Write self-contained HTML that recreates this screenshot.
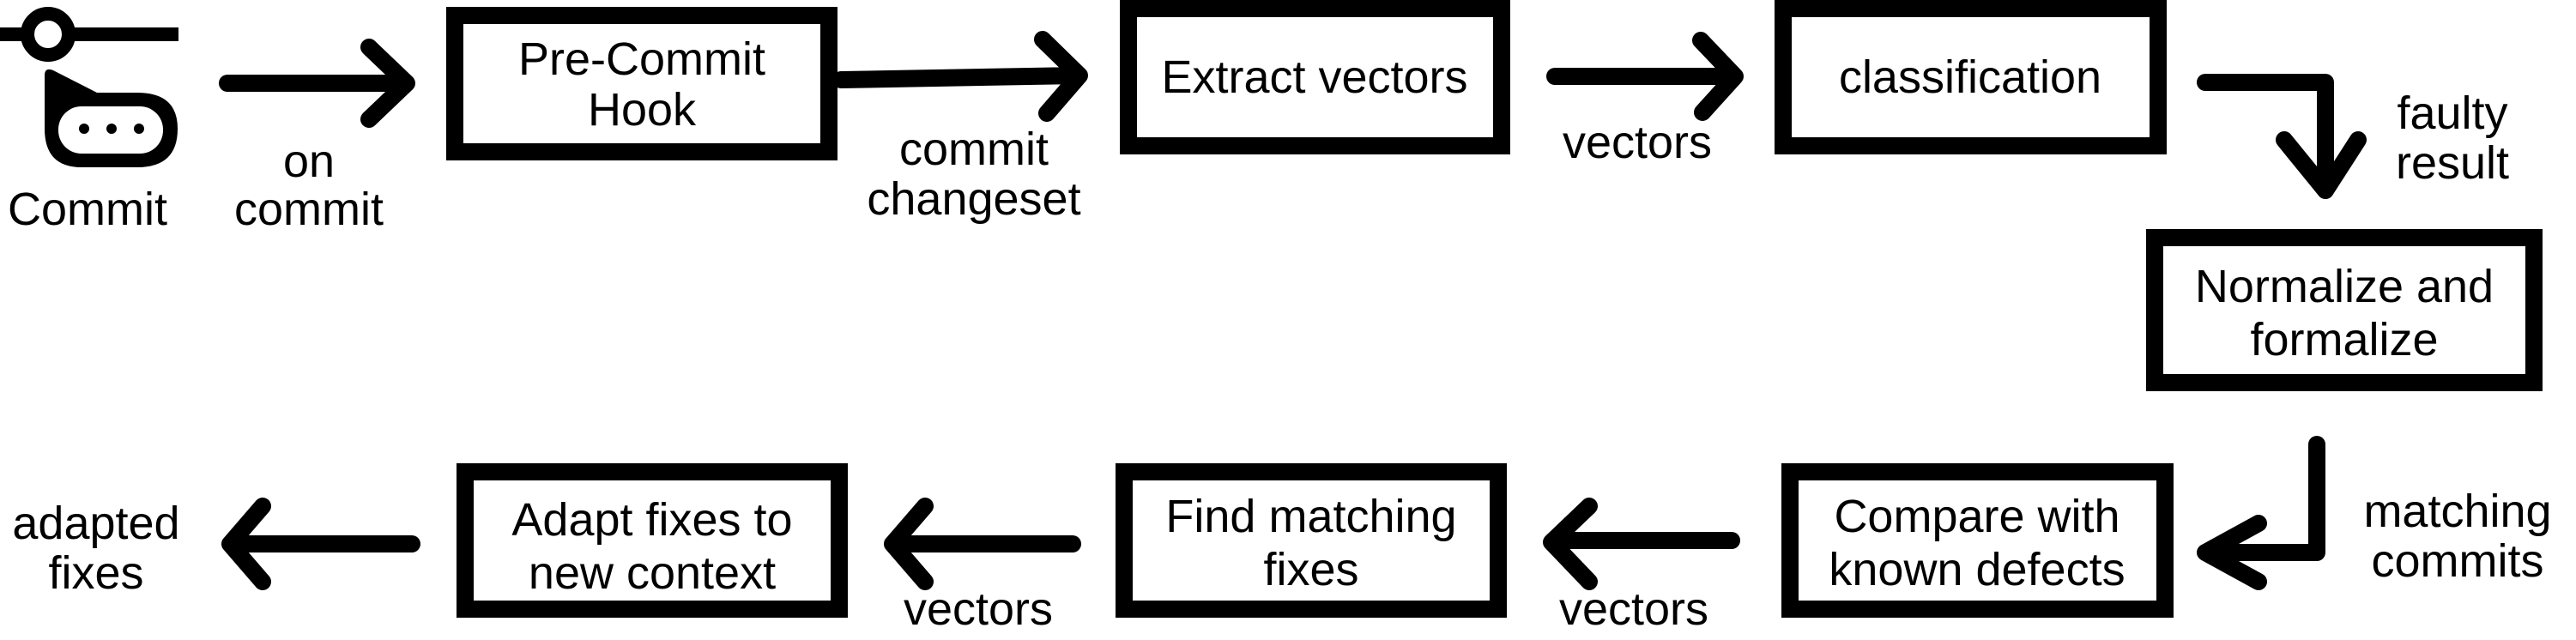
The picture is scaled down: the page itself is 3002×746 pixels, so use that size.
<!DOCTYPE html>
<html><head><meta charset="utf-8"><style>
html,body{margin:0;padding:0;background:#fff;}
svg{display:block}
text{font-family:"Liberation Sans",sans-serif;font-size:54px;fill:#000;text-anchor:middle;dominant-baseline:central}
</style></head><body>
<svg width="3002" height="746" viewBox="0 0 3002 746" xmlns="http://www.w3.org/2000/svg">
<rect x="0" y="32" width="208" height="16" fill="#000"/>
<circle cx="56" cy="40" r="24" fill="#fff" stroke="#000" stroke-width="16"/>
<path d="M52,88 Q52,78 62,82 L113,108 L160,108 Q207,108 207,150 Q207,195 160,195 L95,195 Q52,195 52,150 Z" fill="#000"/>
<rect x="68" y="124" width="122" height="55" rx="27" fill="#fff"/>
<circle cx="98" cy="150" r="6" fill="#000"/><circle cx="130" cy="150" r="6" fill="#000"/><circle cx="162" cy="150" r="6" fill="#000"/>
<text x="102" y="244">Commit</text>
<text x="360" y="188">on</text>
<text x="360" y="244">commit</text>

<g fill="#fff" stroke="#000" stroke-width="20">
<rect x="530" y="18" width="436" height="159"/>
<rect x="1315" y="10" width="435" height="160"/>
<rect x="2078" y="10" width="437" height="160"/>
<rect x="2511" y="277" width="442" height="169"/>
<rect x="2086" y="550" width="437" height="160"/>
<rect x="1310" y="550" width="436" height="160"/>
<rect x="542" y="550" width="436" height="160"/>
</g>

<g fill="none" stroke="#000" stroke-width="20" stroke-linecap="round" stroke-linejoin="round">
<path d="M265,97 H472 M430,55 L474,97 L430,139"/>
<path d="M980,93 L1256,88 M1215,46 L1258,88 L1220,132"/>
<path d="M1812,89 H2020 M1982,47 L2022,89 L1984,131"/>
<path d="M2570,96 H2710 V222 M2662,163 L2710,222 L2748,163"/>
<path d="M2700,518 V644 H2572 M2632,610 L2570,644 L2632,678"/>
<path d="M2018,630 H1810 M1852,590 L1808,632 L1852,678"/>
<path d="M1250,634 H1040 M1078,590 L1040,634 L1078,678"/>
<path d="M480,634 H268 M306,590 L268,634 L306,678"/>
</g>

<text x="748" y="69">Pre-Commit</text>
<text x="748" y="128">Hook</text>
<text x="1532" y="90">Extract vectors</text>
<text x="2296" y="90">classification</text>
<text x="2732" y="334">Normalize and</text>
<text x="2732" y="396">formalize</text>
<text x="2304" y="602">Compare with</text>
<text x="2304" y="664">known defects</text>
<text x="1528" y="602">Find matching</text>
<text x="1528" y="664">fixes</text>
<text x="760" y="606">Adapt fixes to</text>
<text x="760" y="668">new context</text>

<text x="1135" y="174">commit</text>
<text x="1135" y="232">changeset</text>
<text x="1908" y="166">vectors</text>
<text x="2858" y="132">faulty</text>
<text x="2858" y="190">result</text>
<text x="2864" y="596">matching</text>
<text x="2864" y="654">commits</text>
<text x="1904" y="710">vectors</text>
<text x="1140" y="710">vectors</text>
<text x="112" y="610">adapted</text>
<text x="112" y="668">fixes</text>
</svg>
</body></html>
